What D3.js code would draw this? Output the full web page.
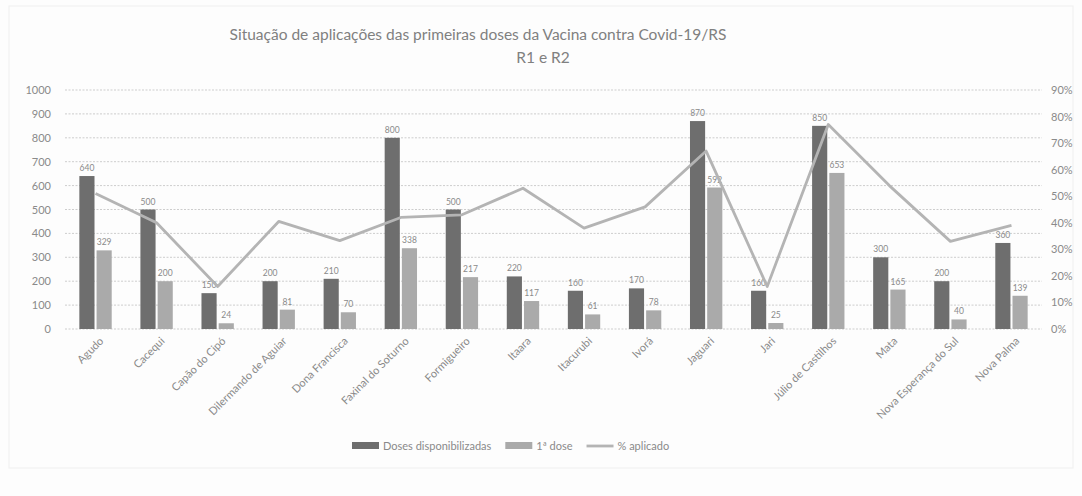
<!DOCTYPE html>
<html>
<head>
<meta charset="utf-8">
<script src="https://cdn.jsdelivr.net/npm/d3@7"></script>
<style>
  body { margin: 0; background: #fdfdfd; }
  svg { display: block; font-family: Lato, "Open Sans", sans-serif; }
</style>
</head>
<body>
<svg id="chart" width="1082" height="496"></svg>
<script>
// values
const categories = ['Agudo', 'Cacequi', 'Capão do Cipó', 'Dilermando de Aguiar', 'Dona Francisca',
  'Faxinal do Soturno', 'Formigueiro', 'Itaara', 'Itacurubi', 'Ivorá', 'Jaguari', 'Jari',
  'Júlio de Castilhos', 'Mata', 'Nova Esperança do Sul', 'Nova Palma'];
const dosesDisponibilizadas = [640, 500, 150, 200, 210, 800, 500, 220, 160, 170, 870, 160, 850, 300, 200, 360];
const primeiraDose = [329, 200, 24, 81, 70, 338, 217, 117, 61, 78, 592, 25, 653, 165, 40, 139];
const percentAplicado = [0.51, 0.40, 0.16, 0.405, 0.333, 0.42, 0.43, 0.53, 0.38, 0.46, 0.67, 0.16, 0.77, 0.54, 0.33, 0.39];
const leftTicks = [0, 100, 200, 300, 400, 500, 600, 700, 800, 900, 1000];
const rightTicks = [0, 0.1, 0.2, 0.3, 0.4, 0.5, 0.6, 0.7, 0.8, 0.9];
const seriesNames = ['Doses disponibilizadas', '1ª dose', '% aplicado'];

const svg = d3.select('#chart');
const plot = { left: 65, right: 1042, top: 90, bottom: 329 };
const darkFill = '#6e6e6e';
const lightFill = '#aaaaaa';
const lineColor = '#b4b4b4';
const textColor = '#8a8a8a';

const x0 = d3.scaleBand(categories, [plot.left, plot.right]).paddingInner(0.47).paddingOuter(0.235);
const x1 = d3.scaleBand(['d', 'p'], [0, x0.bandwidth()]).paddingInner(0.12);
const y = d3.scaleLinear([0, 1000], [plot.bottom, plot.top]);
const y2 = d3.scaleLinear([0, 0.9], [plot.bottom, plot.top]);
const center = (c) => x0(c) + x0.bandwidth() / 2;

// frame
svg.append('rect')
  .attr('x', 9).attr('y', 6).attr('width', 1064).attr('height', 462)
  .attr('fill', 'none').attr('stroke', '#efefef');

// title (the scan shows the second line sitting right of the first one's centre)
const title = svg.append('text')
  .attr('text-anchor', 'middle')
  .attr('fill', '#808080')
  .attr('font-size', 15.5);
title.append('tspan').attr('x', 478).attr('y', 40)
  .text('Situação de aplicações das primeiras doses da Vacina contra Covid-19/RS');
title.append('tspan').attr('x', 543).attr('y', 63).text('R1 e R2');

// gridlines
svg.append('g')
  .selectAll('line')
  .data(leftTicks)
  .join('line')
  .attr('x1', plot.left).attr('x2', plot.right)
  .attr('y1', (d) => y(d)).attr('y2', (d) => y(d))
  .attr('stroke', '#cdcdcd')
  .attr('stroke-dasharray', '2,1.5');

// axes
const leftAxis = svg.append('g')
  .attr('transform', `translate(${plot.left - 14},0)`)
  .call(d3.axisLeft(y).tickValues(leftTicks).tickSize(0).tickPadding(0)
    .tickFormat(d3.format('d')));
const rightAxis = svg.append('g')
  .attr('transform', `translate(${plot.right + 9},0)`)
  .call(d3.axisRight(y2).tickValues(rightTicks).tickSize(0).tickPadding(0)
    .tickFormat(d3.format('.0%')));
[leftAxis, rightAxis].forEach((g) => {
  g.select('.domain').remove();
  g.selectAll('text').attr('fill', textColor).attr('font-size', 11)
    .attr('font-family', 'Lato, "Open Sans", sans-serif');
});

// category labels
const xAxis = svg.append('g')
  .attr('transform', `translate(0,${plot.bottom + 4})`)
  .call(d3.axisBottom(x0).tickSize(0).tickPadding(0));
xAxis.select('.domain').remove();
xAxis.selectAll('.tick text')
  .attr('fill', textColor)
  .attr('font-size', 11)
  .attr('font-family', 'Lato, "Open Sans", sans-serif')
  .attr('text-anchor', 'end')
  .attr('dy', '0.35em')
  .attr('transform', 'translate(6,6) rotate(-45)');

// bars
const rows = categories.map((c, i) => ({ c, d: dosesDisponibilizadas[i], p: primeiraDose[i], pct: percentAplicado[i] }));
const groups = svg.append('g')
  .selectAll('g')
  .data(rows)
  .join('g')
  .attr('transform', (r) => `translate(${x0(r.c)},0)`);

const barData = (r) => [{ key: 'd', v: r.d, fill: darkFill }, { key: 'p', v: r.p, fill: lightFill }];
groups.selectAll('rect')
  .data(barData)
  .join('rect')
  .attr('x', (b) => x1(b.key))
  .attr('width', x1.bandwidth())
  .attr('y', (b) => y(b.v))
  .attr('height', (b) => y(0) - y(b.v))
  .attr('fill', (b) => b.fill);

groups.selectAll('text')
  .data(barData)
  .join('text')
  .attr('x', (b) => x1(b.key) + x1.bandwidth() / 2)
  .attr('y', (b) => y(b.v) - 5)
  .attr('text-anchor', 'middle')
  .attr('font-size', 8.5)
  .attr('fill', textColor)
  .text((b) => b.v);

// % aplicado line
svg.append('path')
  .datum(rows)
  .attr('fill', 'none')
  .attr('stroke', lineColor)
  .attr('stroke-width', 2.8)
  .attr('stroke-linejoin', 'round')
  .attr('d', d3.line().x((r) => center(r.c)).y((r) => y2(r.pct)));

// legend
const legend = svg.append('g').attr('transform', 'translate(352,446)');
let lx = 0;
seriesNames.forEach((name, i) => {
  const item = legend.append('g').attr('transform', `translate(${lx},0)`);
  if (i < 2) {
    item.append('rect').attr('x', 0).attr('y', -4).attr('width', 27).attr('height', 7)
      .attr('fill', i === 0 ? darkFill : lightFill);
  } else {
    item.append('line').attr('x1', 0).attr('x2', 27).attr('y1', 0).attr('y2', 0)
      .attr('stroke', lineColor).attr('stroke-width', 2.8);
  }
  const t = item.append('text').attr('x', 31).attr('y', 4)
    .attr('font-size', 11).attr('fill', textColor).text(name);
  lx += 31 + t.node().getComputedTextLength() + 14;
});
</script>
</body>
</html>
